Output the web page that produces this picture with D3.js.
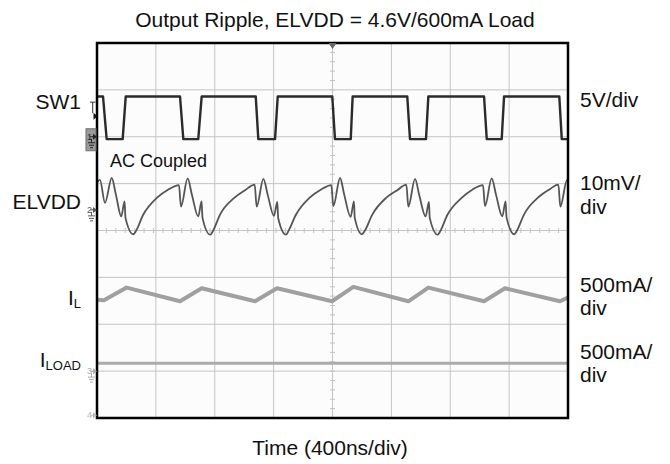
<!DOCTYPE html>
<html>
<head>
<meta charset="utf-8">
<script src="https://cdn.jsdelivr.net/npm/d3@7"></script>
<style>
  body { margin: 0; background: #ffffff; }
  svg text { font-family: "Liberation Sans", Arial, sans-serif; fill: #111; }
</style>
</head>
<body>
<div id="svgcontainer"></div>
<script>

// Time in ns (400ns/div, 10 div on screen)
var swTime = [0, 51, 82, 218, 244, 705, 733, 860, 889, 1348, 1370, 1512, 1535,
    1998, 2021, 2155, 2171, 2635, 2658, 2794, 2814, 3287, 3310, 3437, 3457, 3926, 3947, 4000];
// SW1 in volts
var swVolt = [4.3, 4.3, -0.25, -0.25, 4.3, 4.3, -0.25, -0.25, 4.3, 4.3, -0.25, -0.25, 4.3,
    4.3, -0.25, -0.25, 4.3, 4.3, -0.25, -0.25, 4.3, 4.3, -0.25, -0.25, 4.3, 4.3, -0.25, -0.25];

// ELVDD ripple, AC coupled, in mV
var elvddTime = [0, 25, 68, 125, 161, 206, 234, 242, 308, 331, 391, 510, 603, 696,
    713, 770, 807, 860, 888, 896, 962, 985, 1045, 1163, 1257, 1339,
    1356, 1413, 1450, 1503, 1531, 1539, 1605, 1628, 1688, 1806, 1900, 1990,
    2007, 2064, 2100, 2154, 2182, 2189, 2250, 2273, 2338, 2457, 2550, 2627,
    2644, 2701, 2737, 2791, 2819, 2826, 2893, 2916, 2975, 3094, 3187, 3278,
    3295, 3352, 3389, 3442, 3470, 3478, 3544, 3567, 3626, 3745, 3839, 3918,
    3935, 3992, 4000];
var elvddMv = [5.8, 6.4, 1.5, 6.8, 3.2, -1.4, 1.8, -1.7, -5.2, -4.5, -1.1, 2.6, 4.3, 5.3,
    0.7, 6.7, 3.1, -1.4, 1.8, -1.7, -5.3, -4.5, -1.0, 2.5, 4.2, 5.4,
    0.7, 6.6, 3.2, -1.3, 1.7, -1.8, -5.3, -4.4, -1.1, 2.6, 4.3, 5.3,
    0.8, 6.8, 3.2, -1.5, 1.8, -1.7, -5.2, -4.5, -1.0, 2.6, 4.2, 5.4,
    0.7, 6.6, 3.1, -1.4, 1.7, -1.7, -5.3, -4.5, -1.1, 2.5, 4.3, 5.3,
    0.8, 6.7, 3.2, -1.4, 1.8, -1.6, -5.2, -4.4, -1.0, 2.6, 4.3, 5.4,
    0.7, 6.4, 6.2];

// Inductor current in mA
var ilTime = [0, 59, 252, 705, 889, 1342, 1529, 1996, 2177, 2644, 2814, 3287, 3465, 3932, 4000];
var ilMa = [1231, 1226, 1361, 1215, 1354, 1215, 1354, 1215, 1368, 1215, 1361, 1215, 1354, 1215, 1255];

// Load current in mA
var iloadTime = [0, 4000];
var iloadMa = [84, 84];

// Channel settings: units per div and ground marker position (div from centre)
var chScale = [5, 10, 500, 500];
var chOffset = [2, 0.44, -3, -3.94];
var triggerLevel = 2.2; // V on channel 1

var title = "Output Ripple, ELVDD = 4.6V/600mA Load";
var xTitle = "Time (400ns/div)";
var rightLabels = [["5V/div"], ["10mV/", "div"], ["500mA/", "div"], ["500mA/", "div"]];
var rightBaselines = [[107], [190, 214], [292, 315], [359, 382]];

// --- --- Layout --- ---
var width = 670;
var height = 464;
var plot = ({left: 97, right: 568, top: 43, bottom: 418});

var x = d3.scaleLinear().domain([0, 4000]).range([plot.left, plot.right]);
var y = d3.scaleLinear().domain([-4, 4]).range([plot.bottom, plot.top]);

// value on channel -> screen position
function chY(ch, v) {
    return y(chOffset[ch] + v / chScale[ch]);
}

var svg = d3.select("#svgcontainer").append("svg")
    .attr("width", width).attr("height", height).attr("id", "svg");

// --- Screen background and graticule ---
svg.append("rect")
    .attr("x", plot.left).attr("y", plot.top)
    .attr("width", plot.right - plot.left).attr("height", plot.bottom - plot.top)
    .attr("fill", "#fcfcfc");

var grid = svg.append("g").attr("stroke", "#c4c4c4").attr("stroke-width", 1);
x.ticks(10).slice(1, -1).forEach(function(t){
    grid.append("line").attr("x1", x(t)).attr("x2", x(t))
        .attr("y1", plot.top).attr("y2", plot.bottom);
});
y.ticks(8).slice(1, -1).forEach(function(t){
    grid.append("line").attr("x1", plot.left).attr("x2", plot.right)
        .attr("y1", y(t)).attr("y2", y(t));
});

// minor ticks on the centre lines (5 per div)
d3.range(0, 4000.1, 80).forEach(function(t){
    grid.append("line").attr("x1", x(t)).attr("x2", x(t))
        .attr("y1", y(0) - 2.5).attr("y2", y(0) + 2.5);
});
d3.range(-4, 4.01, 0.2).forEach(function(d){
    grid.append("line").attr("x1", x(2000) - 2.5).attr("x2", x(2000) + 2.5)
        .attr("y1", y(d)).attr("y2", y(d));
});

// --- Traces ---
function drawTrace(times, values, ch, color, w, curve){
    var line = d3.line()
        .curve(curve)
        .x(function(d, i){ return x(times[i]); })
        .y(function(d){ return chY(ch, d); });
    svg.append("path").datum(values)
        .attr("d", line)
        .attr("fill", "none")
        .attr("stroke", color)
        .attr("stroke-width", w)
        .attr("stroke-linejoin", "round");
}

drawTrace(iloadTime, iloadMa, 2, "#ababab", 3, d3.curveLinear);
drawTrace(ilTime, ilMa, 3, "#a0a0a0", 4, d3.curveLinear);
drawTrace(elvddTime, elvddMv, 1, "#555555", 1.8, d3.curveMonotoneX);
drawTrace(swTime, swVolt, 0, "#2b2b2b", 2.4, d3.curveLinear);

// --- Frame ---
svg.append("rect")
    .attr("x", plot.left).attr("y", plot.top)
    .attr("width", plot.right - plot.left).attr("height", plot.bottom - plot.top)
    .attr("fill", "none").attr("stroke", "#000").attr("stroke-width", 2.5);

// trigger position marker
svg.append("path")
    .attr("d", "M" + (x(2000) - 4) + "," + plot.top + "L" + (x(2000) + 4) + "," + plot.top + "L" + x(2000) + "," + (plot.top + 6) + "Z")
    .attr("fill", "#666");

// --- Channel markers on the left edge ---
function groundSymbol(g, cx, top, color){
    g.append("line").attr("x1", cx).attr("x2", cx).attr("y1", top - 4).attr("y2", top)
        .attr("stroke", color);
    [3.5, 2.5, 1.5].forEach(function(hw, i){
        g.append("line").attr("x1", cx - hw).attr("x2", cx + hw)
            .attr("y1", top + i * 2.5).attr("y2", top + i * 2.5)
            .attr("stroke", color);
    });
}

function channelMarker(ch, color, withGround){
    var yy = chY(ch, 0);
    var g = svg.append("g");
    if (ch == 0){
        g.append("rect").attr("x", 86).attr("y", yy - 8).attr("width", 10).attr("height", 22)
            .attr("fill", "#9a9a9a").attr("stroke", "#6e6e6e");
    }
    g.append("text").attr("x", 87).attr("y", yy + 3).attr("font-size", 9)
        .style("fill", ch == 0 ? "#222" : color).text(ch + 1);
    g.append("path")
        .attr("d", "M93," + (yy - 3) + "L97," + yy + "L93," + (yy + 3) + "Z")
        .attr("fill", ch == 0 ? "#222" : color);
    g.append("line").attr("x1", 90).attr("x2", 94).attr("y1", yy).attr("y2", yy)
        .attr("stroke", ch == 0 ? "#222" : color);
    if (withGround){
        groundSymbol(g, 91.5, yy + 6, ch == 0 ? "#222" : color);
    }
}

channelMarker(0, "#222", true);
channelMarker(1, "#555", true);
channelMarker(2, "#aaa", true);
channelMarker(3, "#bbb", false);

// trigger level "T" marker
var ty = chY(0, triggerLevel);
svg.append("path")
    .attr("d", "M90," + (ty - 14) + "L95.5," + (ty - 14) + "M92.7," + (ty - 14) + "L92.7," + (ty - 3))
    .attr("stroke", "#333").attr("fill", "none");
svg.append("path")
    .attr("d", "M93.5," + (ty - 3.5) + "L97.5," + ty + "L93.5," + (ty + 3.5) + "Z")
    .attr("fill", "#111");

// --- Texts ---
svg.append("text").attr("x", 335).attr("y", 27).attr("text-anchor", "middle")
    .attr("font-size", 21).text(title);
svg.append("text").attr("x", 330).attr("y", 455).attr("text-anchor", "middle")
    .attr("font-size", 21).text(xTitle);

svg.append("text").attr("x", 110).attr("y", 167).attr("font-size", 18).text("AC Coupled");

svg.append("text").attr("x", 81).attr("y", 109).attr("text-anchor", "end")
    .attr("font-size", 21).text("SW1");
svg.append("text").attr("x", 81).attr("y", 209).attr("text-anchor", "end")
    .attr("font-size", 21).text("ELVDD");

var il = svg.append("text").attr("x", 81).attr("y", 305).attr("text-anchor", "end")
    .attr("font-size", 21);
il.append("tspan").text("I");
il.append("tspan").attr("font-size", 13).attr("dy", 3).text("L");

var iload = svg.append("text").attr("x", 81).attr("y", 367).attr("text-anchor", "end")
    .attr("font-size", 21);
iload.append("tspan").text("I");
iload.append("tspan").attr("font-size", 13).attr("dy", 3).text("LOAD");

rightLabels.forEach(function(lines, i){
    lines.forEach(function(s, j){
        svg.append("text").attr("x", 580).attr("y", rightBaselines[i][j])
            .attr("font-size", 21).text(s);
    });
});
</script>
</body>
</html>
